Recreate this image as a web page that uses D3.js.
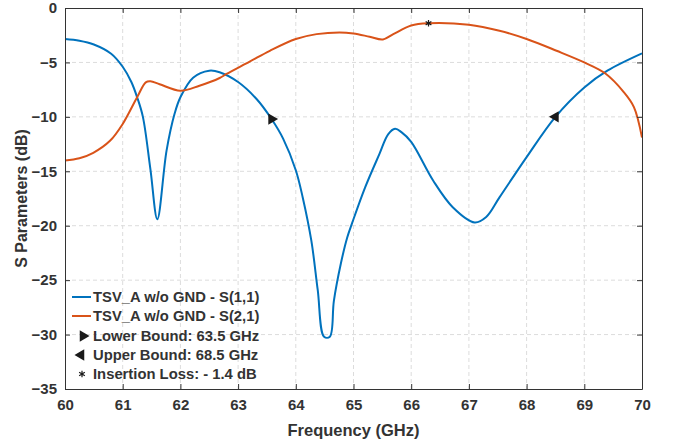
<!DOCTYPE html>
<html>
<head>
<meta charset="utf-8">
<script src="https://cdn.jsdelivr.net/npm/d3@7"></script>
<style>
  body { margin: 0; background: #fff; }
  text { font-family: "Liberation Sans", Arial, sans-serif; font-weight: bold; fill: #333; }
  .grid line { stroke: #dcdcdc; stroke-dasharray: 4,3; }
  .axis path, .axis line { stroke: #333; }
</style>
</head>
<body>
<script>
//S(1,1) data
const freqS11 = [60.0, 60.25, 60.5, 60.8, 61.0, 61.15, 61.25, 61.35, 61.48, 61.6, 61.76, 61.9, 62.0, 62.22, 62.5, 62.68,
    63.0, 63.32, 63.58, 63.78, 64.0, 64.12, 64.27, 64.38, 64.49, 64.59, 64.66, 64.78, 64.89, 64.98, 65.2,
    65.45, 65.6, 65.72, 65.83, 66.0, 66.38, 66.72, 67.1, 67.3, 67.53, 68.0, 68.5, 69.0, 69.4, 70.0];
const s11 = [-2.85, -3.0, -3.35, -4.2, -5.4, -6.8, -8.2, -10.0, -14.8, -19.4, -13.1, -9.7, -8.2, -6.4, -5.76, -5.9,
    -6.8, -8.36, -10.2, -12.0, -14.9, -17.4, -21.4, -25.9, -30.2, -30.2, -26.9, -23.5, -21.1, -19.7, -16.5,
    -13.4, -11.6, -11.1, -11.4, -12.3, -15.85, -18.3, -19.7, -19.2, -17.4, -13.7, -10.0, -7.3, -5.76, -4.17];

//S(2,1) data
const freqS21 = [60.0, 60.25, 60.49, 60.78, 61.0, 61.25, 61.4, 61.48, 61.64, 62.0, 62.33, 62.68, 62.8, 63.2, 63.55,
    64.0, 64.36, 64.76, 65.0, 65.28, 65.51, 65.69, 66.0, 66.3, 67.0, 67.53, 68.0, 68.52, 69.0, 69.36,
    69.68, 69.86, 70.0];
const s21 = [-14.0, -13.8, -13.3, -12.2, -10.65, -8.2, -6.83, -6.74, -7.0, -7.6, -7.14, -6.43, -6.06, -4.93, -3.93,
    -2.85, -2.4, -2.24, -2.34, -2.64, -2.89, -2.4, -1.6, -1.4, -1.54, -2.09, -2.85, -3.93, -5.0, -6.0,
    -7.7, -9.1, -11.9];

//Marker points
const lowerBound = [63.58, -10.2];
const upperBound = [68.5, -10.0];
const insertionLoss = [66.3, -1.4];

//Ticks and legend labels
const xTicks = [60, 61, 62, 63, 64, 65, 66, 67, 68, 69, 70];
const yTicks = [0, -5, -10, -15, -20, -25, -30, -35];
const legendLabels = ['TSV_A w/o GND - S(1,1)', 'TSV_A w/o GND - S(2,1)',
    'Lower Bound: 63.5 GHz', 'Upper Bound: 68.5 GHz', 'Insertion Loss: - 1.4 dB'];

const width = 677;
const height = 443;
const margin = {top: 8, right: 35, bottom: 54, left: 65};

const svg = d3.select('body').append('svg')
    .attr('width', width)
    .attr('height', height);

//Scales
let x = d3.scaleLinear()
    .domain([60, 70])
    .range([margin.left, width - margin.right]);

let y = d3.scaleLinear()
    .domain([-35, 0])
    .range([height - margin.bottom, margin.top]);

//Grid
svg.append('g')
    .attr('class', 'grid')
    .selectAll('line.vx')
    .data(xTicks.slice(1, -1))
    .enter()
    .append('line')
    .attr('x1', d => x(d)).attr('x2', d => x(d))
    .attr('y1', y(0)).attr('y2', y(-35));

svg.append('g')
    .attr('class', 'grid')
    .selectAll('line.hy')
    .data(yTicks.slice(1, -1))
    .enter()
    .append('line')
    .attr('x1', x(60)).attr('x2', x(70))
    .attr('y1', d => y(d)).attr('y2', d => y(d));

//Curves
const line = d3.line()
    .x(d => x(d[0]))
    .y(d => y(d[1]))
    .curve(d3.curveCatmullRom.alpha(0.5));

const colours = ['#0072BD', '#D95319'];

svg.append('path')
    .datum(freqS11.map((f, i) => [f, s11[i]]))
    .attr('fill', 'none')
    .attr('stroke', colours[0])
    .attr('stroke-width', 2)
    .attr('d', line);

svg.append('path')
    .datum(freqS21.map((f, i) => [f, s21[i]]))
    .attr('fill', 'none')
    .attr('stroke', colours[1])
    .attr('stroke-width', 2)
    .attr('d', line);

//Markers
const triangle = d3.symbol().type(d3.symbolTriangle).size(55);
const asterisk = d3.symbol().type(d3.symbolAsterisk).size(30);

svg.append('path')
    .attr('d', triangle())
    .attr('fill', '#1a1a1a')
    .attr('transform', `translate(${x(lowerBound[0])},${y(lowerBound[1])}) rotate(90)`);

svg.append('path')
    .attr('d', triangle())
    .attr('fill', '#1a1a1a')
    .attr('transform', `translate(${x(upperBound[0])},${y(upperBound[1])}) rotate(-90)`);

svg.append('path')
    .attr('d', asterisk())
    .attr('fill', 'none')
    .attr('stroke', '#1a1a1a')
    .attr('stroke-width', 1.2)
    .attr('transform', `translate(${x(insertionLoss[0])},${y(insertionLoss[1])})`);

//Axes, ticks inward on all four sides
const xAxisBottom = d3.axisBottom(x).tickValues(xTicks).tickSize(-5).tickPadding(10).tickSizeOuter(0);
const xAxisTop = d3.axisTop(x).tickValues(xTicks).tickSize(-5).tickFormat('').tickSizeOuter(0);
const yAxisLeft = d3.axisLeft(y).tickValues(yTicks).tickSize(-5).tickPadding(8).tickSizeOuter(0);
const yAxisRight = d3.axisRight(y).tickValues(yTicks).tickSize(-5).tickFormat('').tickSizeOuter(0);

svg.append('g').attr('class', 'axis')
    .attr('transform', `translate(0,${y(-35)})`)
    .call(xAxisBottom)
    .selectAll('text').style('font-size', '15px');

svg.append('g').attr('class', 'axis')
    .attr('transform', `translate(0,${y(0)})`)
    .call(xAxisTop);

svg.append('g').attr('class', 'axis')
    .attr('transform', `translate(${x(60)},0)`)
    .call(yAxisLeft)
    .selectAll('text').style('font-size', '15px');

svg.append('g').attr('class', 'axis')
    .attr('transform', `translate(${x(70)},0)`)
    .call(yAxisRight);

svg.selectAll('.axis text').attr('fill', '#333').style('font-family', '"Liberation Sans", Arial, sans-serif');

//Axis titles
svg.append('text')
    .attr('x', (x(60) + x(70)) / 2)
    .attr('y', 436)
    .style('text-anchor', 'middle')
    .style('font-size', '16.5px')
    .text('Frequency (GHz)');

svg.append('text')
    .attr('transform', `translate(27,${(y(0) + y(-35)) / 2}) rotate(-90)`)
    .style('text-anchor', 'middle')
    .style('font-size', '16px')
    .text('S Parameters (dB)');

//Legend, no box
const rowY = [297, 316, 336, 355, 374];
const legend = svg.append('g').attr('class', 'legend');

legend.selectAll('line')
    .data(colours)
    .enter()
    .append('line')
    .attr('x1', 72).attr('x2', 91)
    .attr('y1', (d, i) => rowY[i]).attr('y2', (d, i) => rowY[i])
    .attr('stroke', d => d)
    .attr('stroke-width', 2);

legend.append('path')
    .attr('d', triangle())
    .attr('fill', '#1a1a1a')
    .attr('transform', `translate(83,${rowY[2]}) rotate(90)`);

legend.append('path')
    .attr('d', triangle())
    .attr('fill', '#1a1a1a')
    .attr('transform', `translate(81,${rowY[3]}) rotate(-90)`);

legend.append('path')
    .attr('d', asterisk())
    .attr('fill', 'none')
    .attr('stroke', '#1a1a1a')
    .attr('stroke-width', 1.2)
    .attr('transform', `translate(82,${rowY[4]})`);

legend.selectAll('text')
    .data(legendLabels)
    .enter()
    .append('text')
    .attr('x', 93)
    .attr('y', (d, i) => rowY[i])
    .attr('dy', '0.36em')
    .style('font-size', '14.8px')
    .text(d => d);
</script>
</body>
</html>
